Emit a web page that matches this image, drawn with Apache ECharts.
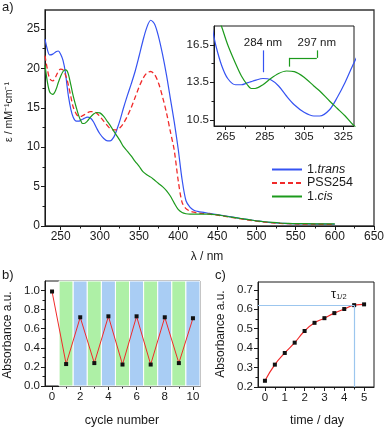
<!DOCTYPE html>
<html>
<head>
<meta charset="utf-8">
<script src="https://cdn.jsdelivr.net/npm/echarts@6/dist/echarts.min.js"></script>
<style>
  html, body { margin: 0; padding: 0; background: #fff; }
  #chart { width: 387px; height: 430px; }
</style>
</head>
<body>
<div id="chart"></div>
<script>
// panel a: absorption spectra (nm, mM-1 cm-1)
const wavelength = [230, 233, 236, 240, 244, 247, 250, 253, 256, 258, 260, 263, 266, 270, 273, 276, 278, 280, 284, 288,
  292, 296, 300, 305, 310, 313, 318, 322, 326, 330, 335, 340, 345, 350, 355, 360, 365, 370, 375, 380,
  385, 390, 395, 400, 405, 410, 415, 420, 425, 430, 440, 450, 460, 470, 480, 490, 500, 510, 520, 530,
  540, 550, 575, 600];
const transEps = [23.7, 22.4, 21.7, 21.8, 22.1, 22.2, 21.8, 21.0, 19.5, 17.9, 16.4, 14.8, 13.8, 13.3, 13.3, 13.45, 13.55, 13.65, 13.8, 13.7,
  13.2, 12.4, 11.7, 11.1, 10.8, 10.8, 11.3, 12.3, 13.5, 14.9, 16.5, 18.0, 19.6, 21.5, 23.5, 25.2, 26.1, 25.6, 24.0, 21.8,
  19.2, 16.2, 13.2, 9.8, 5.9, 3.2, 2.4, 2.0, 1.85, 1.75, 1.6, 1.45, 1.28, 1.12, 0.95, 0.8, 0.66, 0.53, 0.43, 0.36,
  0.31, 0.28, 0.24, 0.22];
const pssEps = [21.6, 19.9, 18.7, 18.4, 19.0, 19.6, 19.9, 19.8, 19.2, 18.6, 17.8, 16.4, 15.1, 14.2, 13.9, 13.9, 14.0, 14.1, 14.35, 14.5,
  14.5, 14.3, 13.9, 13.3, 12.7, 12.4, 12.2, 12.2, 12.5, 13.0, 13.9, 15.0, 16.3, 17.6, 18.7, 19.4, 19.6, 19.2, 18.1, 16.4,
  14.4, 12.0, 9.6, 5.8, 3.0, 2.2, 1.9, 1.75, 1.65, 1.6, 1.5, 1.38, 1.22, 1.05, 0.9, 0.75, 0.62, 0.5, 0.4, 0.33,
  0.29, 0.26, 0.23, 0.21];
const cisEps = [20.4, 18.3, 17.0, 16.7, 17.3, 18.2, 19.0, 19.6, 19.8, 19.7, 19.2, 17.9, 16.5, 15.0, 14.0, 13.3, 13.0, 13.0, 13.3, 13.8,
  14.2, 14.4, 14.35, 13.9, 13.2, 12.8, 12.0, 11.4, 10.8, 10.1, 9.5, 8.9, 8.2, 7.6, 6.9, 6.5, 6.2, 5.8, 5.4, 5.0,
  4.5, 3.8, 2.9, 2.1, 1.7, 1.55, 1.5, 1.5, 1.5, 1.5, 1.5, 1.4, 1.25, 1.1, 0.95, 0.8, 0.66, 0.54, 0.45, 0.38,
  0.34, 0.31, 0.28, 0.27];
const seriesNames = ['1.trans', 'PSS254', '1.cis'];

// inset annotations (nm)
const transPeak = 284;
const cisPeak = 297;

// panel b: switching cycles
const cycleNo = [0, 1, 2, 3, 4, 5, 6, 7, 8, 9, 10];
const cycleAbs = [0.99, 0.23, 0.72, 0.24, 0.73, 0.225, 0.73, 0.225, 0.72, 0.24, 0.71];
const stripeEdges = [0.5, 1.5, 2.5, 3.5, 4.5, 5.5, 6.5, 7.5, 8.5, 9.5, 10.5];

// panel c: thermal back reaction
const days = [0, 0.5, 1, 1.5, 2, 2.5, 3, 3.5, 4, 4.5, 5];
const dayAbs = [0.232, 0.315, 0.375, 0.428, 0.488, 0.530, 0.554, 0.580, 0.601, 0.621, 0.625];
const tauDay = 4.5;
const tauAbs = 0.62;

// tick labels
const aXTicks = [250, 300, 350, 400, 450, 500, 550, 600, 650];
const aXMinor = [275, 325, 375, 425, 475, 525, 575, 625];
const aYTicks = [0, 5, 10, 15, 20, 25];
const aYMinor = [2.5, 7.5, 12.5, 17.5, 22.5];
const inXTicks = [265, 285, 305, 325];
const inXMinor = [275, 295, 315];
const inYTicks = [10.5, 13.5, 16.5];
const inYMinor = [12, 15];
const bXTicks = [0, 2, 4, 6, 8, 10];
const bXMinor = [1, 3, 5, 7, 9];
const bYTicks = [0, 0.2, 0.4, 0.6, 0.8, 1.0];
const bYMinor = [0.1, 0.3, 0.5, 0.7, 0.9];
const cXTicks = [0, 1, 2, 3, 4, 5];
const cXMinor = [0.5, 1.5, 2.5, 3.5, 4.5];
const cYTicks = [0.2, 0.3, 0.4, 0.5, 0.6, 0.7];
const cYMinor = [0.25, 0.35, 0.45, 0.55, 0.65];

const FONT = 'Liberation Sans, Arial, sans-serif';
const INK = '#1a1a1a';
const BLUE = '#3553f2', RED = '#f02a2a', GREEN = '#1c9a1c';
const STRIPE_GREEN = '#aef0a6', STRIPE_BLUE = '#a9cdf4';

function axes(dim, grid, min, max, major, minor, fmt, size) {
  const pos = dim === 'x' ? 'bottom' : 'left';
  return [{
    type: 'value', gridIndex: grid, min: min, max: max, position: pos,
    axisLine: { show: true, onZero: false, lineStyle: { color: INK, width: 1 } },
    axisTick: { show: true, length: 4, customValues: major, lineStyle: { color: INK } },
    axisLabel: { customValues: major, formatter: fmt, fontSize: size, color: INK, fontFamily: FONT, margin: 5 },
    splitLine: { show: false }
  }, {
    type: 'value', gridIndex: grid, min: min, max: max, position: pos,
    axisLine: { show: false, onZero: false },
    axisTick: { show: true, length: 2.5, customValues: minor, lineStyle: { color: INK } },
    axisLabel: { show: false },
    splitLine: { show: false }
  }];
}

const zip = (xs, ys) => xs.map((x, i) => [x, ys[i]]);
const one = v => v.toFixed(1);

const stripes = [];
for (let i = 0; i < stripeEdges.length - 1; i++) {
  stripes.push([
    { xAxis: stripeEdges[i], yAxis: 0, itemStyle: { color: i % 2 === 0 ? STRIPE_GREEN : STRIPE_BLUE } },
    { xAxis: stripeEdges[i + 1], yAxis: 1.1 }
  ]);
}

const plainLine = (color, seg, extra) => Object.assign({
  type: 'line', showSymbol: false, symbol: 'none', smooth: 0.3,
  lineStyle: { color: color, width: 1.2 }, itemStyle: { color: color }
}, seg, extra || {});

const option = {
  animation: false,
  textStyle: { fontFamily: FONT },
  grid: [
    { left: 45, top: 10, width: 329, height: 216, show: true, borderColor: '#333', borderWidth: 1.3 },
    { left: 214, top: 26, width: 140, height: 100, show: true, borderColor: INK, borderWidth: 1, backgroundColor: '#fff' },
    { left: 45, top: 281, width: 155, height: 105, show: true, borderColor: INK, borderWidth: 1 },
    { left: 258, top: 282, width: 116, height: 105, show: true, borderColor: INK, borderWidth: 1 }
  ],
  xAxis: [].concat(
    axes('x', 0, 230, 650, aXTicks, aXMinor, null, 12),
    axes('x', 1, 259, 330.5, inXTicks, inXMinor, null, 11.5),
    axes('x', 2, -0.5, 10.5, bXTicks, bXMinor, null, 11.5),
    axes('x', 3, -0.35, 5.5, cXTicks, cXMinor, null, 11.5)
  ),
  yAxis: [].concat(
    axes('y', 0, 0, 27.4, aYTicks, aYMinor, null, 12),
    axes('y', 1, 10, 18, inYTicks, inYMinor, one, 11.5),
    axes('y', 2, 0, 1.1, bYTicks, bYMinor, one, 11.5),
    axes('y', 3, 0.2, 0.74, cYTicks, cYMinor, one, 11.5)
  ),
  legend: {
    left: 266, top: 158, orient: 'vertical', itemWidth: 30, itemHeight: 8, itemGap: 0.5,
    data: seriesNames,
    itemStyle: { color: 'transparent', borderColor: 'transparent', borderWidth: 0, opacity: 0 },
    formatter: n => n.startsWith('1.') ? '1.{i|' + n.slice(2) + '}' : n,
    textStyle: { fontSize: 12.5, lineHeight: 13, color: INK, fontFamily: FONT,
      rich: { i: { fontStyle: 'italic', fontSize: 12.5, lineHeight: 13, color: INK, fontFamily: FONT } } }
  },
  series: [
    plainLine(BLUE, { xAxisIndex: 0, yAxisIndex: 0 }, { name: seriesNames[0], data: zip(wavelength, transEps) }),
    plainLine(RED, { xAxisIndex: 0, yAxisIndex: 0 }, { name: seriesNames[1], data: zip(wavelength, pssEps),
      lineStyle: { color: RED, width: 1.3, type: [5, 3] } }),
    plainLine(GREEN, { xAxisIndex: 0, yAxisIndex: 0 }, { name: seriesNames[2], data: zip(wavelength, cisEps) }),
    plainLine(BLUE, { xAxisIndex: 2, yAxisIndex: 2 }, { name: seriesNames[0], data: zip(wavelength, transEps), clip: true,
      markLine: {
        silent: true, symbol: 'none', lineStyle: { color: BLUE, width: 1.2, type: 'solid' },
        label: { show: true, position: 'end', formatter: transPeak + ' nm', fontSize: 11.5, color: INK, fontFamily: FONT, distance: 2 },
        data: [[{ coord: [transPeak, 14.3] }, { coord: [transPeak, 16.05] }]]
      } }),
    plainLine(GREEN, { xAxisIndex: 2, yAxisIndex: 2 }, { name: seriesNames[2], data: zip(wavelength, cisEps), clip: true,
      markLine: {
        silent: true, symbol: 'none', lineStyle: { color: GREEN, width: 1.2, type: 'solid' },
        label: { show: false },
        data: [
          [{ coord: [cisPeak + 0.5, 14.75] }, { coord: [cisPeak + 0.5, 15.45] }],
          [{ coord: [cisPeak + 0.5, 15.45] }, { coord: [cisPeak + 14.5, 15.45] }],
          [{ coord: [cisPeak + 14.5, 15.45], label: { show: true, position: 'end', formatter: cisPeak + ' nm',
              fontSize: 11.5, color: INK, fontFamily: FONT, distance: 2 } },
           { coord: [cisPeak + 14.5, 16.05] }]
        ]
      } }),
    {
      type: 'line', xAxisIndex: 4, yAxisIndex: 4, data: zip(cycleNo, cycleAbs),
      symbol: 'rect', symbolSize: 4, itemStyle: { color: '#111' },
      lineStyle: { color: RED, width: 1 },
      markArea: { silent: true, itemStyle: { borderColor: '#fff', borderWidth: 1 }, data: stripes }
    },
    {
      type: 'line', xAxisIndex: 6, yAxisIndex: 6, data: zip(days, dayAbs), smooth: 0.5,
      symbol: 'rect', symbolSize: 4, itemStyle: { color: '#111' },
      lineStyle: { color: RED, width: 1.2 },
      markLine: {
        silent: true, symbol: 'none', label: { show: false },
        lineStyle: { color: '#9cc6ee', width: 1.2, type: 'solid' },
        data: [
          [{ coord: [-0.35, tauAbs] }, { coord: [tauDay, tauAbs] }],
          [{ coord: [tauDay, tauAbs] }, { coord: [tauDay, 0.2] }]
        ]
      }
    }
  ],
  graphic: [
    { type: 'text', left: 2, top: 1, style: { text: 'a)', fontSize: 13, fill: INK, fontFamily: FONT } },
    { type: 'text', left: 2, top: 269, style: { text: 'b)', fontSize: 13, fill: INK, fontFamily: FONT } },
    { type: 'text', left: 215, top: 269, style: { text: 'c)', fontSize: 13, fill: INK, fontFamily: FONT } },
    { type: 'text', x: 9, y: 112, rotation: Math.PI / 2,
      style: { text: 'ε / mM⁻¹cm⁻¹', fontSize: 10.5, fill: INK, fontFamily: FONT, align: 'center', verticalAlign: 'middle' } },
    { type: 'text', x: 207, y: 257,
      style: { text: 'λ / nm', fontSize: 12, fill: INK, fontFamily: FONT, align: 'center', verticalAlign: 'middle' } },
    { type: 'text', x: 8, y: 335, rotation: Math.PI / 2,
      style: { text: 'Absorbance a.u.', fontSize: 12, fill: INK, fontFamily: FONT, align: 'center', verticalAlign: 'middle' } },
    { type: 'text', x: 122, y: 421,
      style: { text: 'cycle number', fontSize: 12.5, fill: INK, fontFamily: FONT, align: 'center', verticalAlign: 'middle' } },
    { type: 'text', x: 221, y: 334, rotation: Math.PI / 2,
      style: { text: 'Absorbance a.u.', fontSize: 12, fill: INK, fontFamily: FONT, align: 'center', verticalAlign: 'middle' } },
    { type: 'text', x: 317, y: 421,
      style: { text: 'time / day', fontSize: 12.5, fill: INK, fontFamily: FONT, align: 'center', verticalAlign: 'middle' } },
    { type: 'text', x: 331, y: 301,
      style: { text: '{t|τ}{s|1/2}', fill: INK, fontFamily: FONT, verticalAlign: 'bottom',
        rich: { t: { fontSize: 13, fontFamily: FONT, fill: INK }, s: { fontSize: 7.5, fontFamily: FONT, fill: INK, padding: [4, 0, 0, 0] } } } }
  ]
};

const myChart = echarts.init(document.getElementById('chart'), null, { renderer: 'canvas' });
myChart.setOption(option);
</script>
</body>
</html>
